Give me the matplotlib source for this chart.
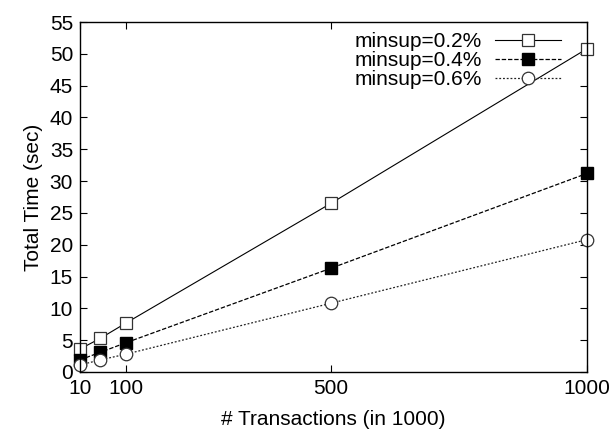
import matplotlib.pyplot as plt

plt.rcParams['font.family'] = ['Liberation Sans', 'DejaVu Sans']

# Data
transactions = [10, 50, 100, 500, 1000]
time_02 = [3.6, 5.3, 7.7, 26.5, 50.8]
time_04 = [1.9, 3.1, 4.6, 16.3, 31.2]
time_06 = [1.1, 1.9, 2.8, 10.8, 20.8]
xticks = [10, 100, 500, 1000]
labels = ["minsup=0.2%", "minsup=0.4%", "minsup=0.6%"]

fig = plt.figure(figsize=(6.13, 4.32), dpi=100)
ax = fig.add_axes([0.1305, 0.139, 0.827, 0.81])

ax.plot(transactions, time_02, color='black', lw=0.8, ls='-', clip_on=False,
        marker='s', ms=9, mfc='white', mec='#333333', mew=0.9, label=labels[0])
ax.plot(transactions, time_04, color='black', lw=0.9, ls=(0, (3.5, 1.5)), clip_on=False,
        marker='s', ms=9, mfc='black', mec='black', label=labels[1])
ax.plot(transactions, time_06, color='#222222', lw=0.9, ls=(0, (1.5, 1.5)), clip_on=False,
        marker='o', ms=9, mfc='white', mec='#333333', mew=0.9, label=labels[2])

ax.set_xlim(10, 1000)
ax.set_ylim(0, 55)
ax.set_xticks(xticks)
ax.set_yticks(range(0, 56, 5))
ax.tick_params(direction='in', top=True, right=True, length=5, width=0.8,
               labelsize=15, pad=5)
for s in ax.spines.values():
    s.set_linewidth(1.0)

ax.set_xlabel("# Transactions (in 1000)", fontsize=15, labelpad=9)
ax.set_ylabel("Total Time (sec)", fontsize=15, labelpad=5)

ax.legend(loc='upper right', bbox_to_anchor=(0.98, 1.015), frameon=False,
          markerfirst=False, fontsize=15, handlelength=3.2, handletextpad=0.6,
          labelspacing=0.0, borderaxespad=0.35)

fig.savefig("out.png", dpi=100)
